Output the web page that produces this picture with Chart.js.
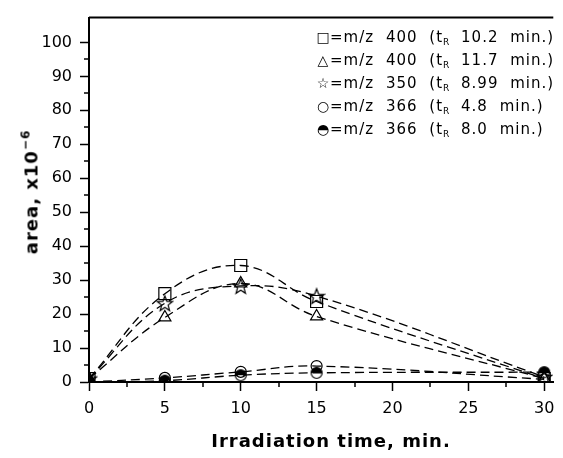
<!DOCTYPE html>
<html lang="en">
<head>
    <meta charset="UTF-8">
    <title>area vs irradiation time</title>
    <script src="https://cdn.jsdelivr.net/npm/chart.js"></script>
    <style>
        body { margin: 0; background: #ffffff; }
        #wrap { position: relative; width: 563px; height: 458px; }
        canvas { position: absolute; left: 0; top: 0; }
        .legend { position: absolute; left: 316px; top: 26px; font-family: 'DejaVu Sans', sans-serif; font-size: 15px; color: #000; line-height: 23px; word-spacing: 6px; letter-spacing: 1px; }
        .legend div { height: 23px; white-space: nowrap; }
        .legend sub { font-size: 9px; vertical-align: -3px; line-height: 0; letter-spacing: 0; }
        .legend .sym { display: inline-block; width: 14px; text-align: center; font-size: 14px; word-spacing: 0; letter-spacing: 0; }
        #ytitle { position: absolute; left: 30px; top: 192px; transform: translate(-50%, -50%) rotate(-90deg); font-family: 'DejaVu Sans', sans-serif; font-weight: bold; font-size: 18px; white-space: nowrap; letter-spacing: 1px; }
        #ytitle sup { font-size: 12px; vertical-align: 8px; }
        #xtitle { position: absolute; left: 331px; top: 440px; transform: translate(-50%, -50%); font-family: 'DejaVu Sans', sans-serif; font-weight: bold; font-size: 18px; white-space: nowrap; letter-spacing: 1px; }
    </style>
</head>
<body>
    <div id="wrap">
        <canvas id="chart" width="563" height="458"></canvas>
        <div id="ytitle">area, x10<sup>−6</sup></div>
        <div id="xtitle">Irradiation time, min.</div>
        <div class="legend" id="legend"></div>
    </div>

    <script>
        // irradiation time (min)
        const times = [0, 5, 10, 15, 30];

        // peak areas, x10^-6
        const mz400a = [1, 26, 34.3, 23.7, 1];     // square
        const mz400b = [1, 19, 29, 19.3, 1];       // triangle
        const mz350 = [1, 23.2, 28.3, 25.3, 1.5];  // star
        const mz366a = [0, 1.2, 3, 4.7, 0.8];      // circle
        const mz366b = [0, 0.4, 2, 2.7, 2.9];      // half filled circle

        const legendLabels = [
            { sym: "□", mz: "400", tr: "10.2", close: ")" },
            { sym: "△", mz: "400", tr: "11.7", close: ")" },
            { sym: "☆", mz: "350", tr: "8.99", close: ")" },
            { sym: "○", mz: "366", tr: "4.8", close: ")" },
            { sym: "◓", mz: "366", tr: "8.0", close: ")" }
        ];

        const xTicks = [0, 5, 10, 15, 20, 25, 30];
        const yTicks = [0, 10, 20, 30, 40, 50, 60, 70, 80, 90, 100];

        // marker images
        function makeStar() {
            const c = document.createElement("canvas");
            c.width = 18; c.height = 18;
            const ctx = c.getContext("2d");
            ctx.strokeStyle = "#000"; ctx.lineWidth = 1.2;
            ctx.beginPath();
            for (let i = 0; i < 10; i++) {
                const r = i % 2 === 0 ? 8 : 3.4;
                const a = -Math.PI / 2 + i * Math.PI / 5;
                const px = 9 + r * Math.cos(a), py = 9.8 + r * Math.sin(a);
                i === 0 ? ctx.moveTo(px, py) : ctx.lineTo(px, py);
            }
            ctx.closePath();
            ctx.stroke();
            return c;
        }

        function makeHalf() {
            const c = document.createElement("canvas");
            c.width = 14; c.height = 14;
            const ctx = c.getContext("2d");
            ctx.fillStyle = "#000"; ctx.strokeStyle = "#000"; ctx.lineWidth = 1.2;
            ctx.beginPath(); ctx.arc(7, 7, 5.5, Math.PI, 0); ctx.closePath(); ctx.fill();
            ctx.beginPath(); ctx.arc(7, 7, 5.5, 0, Math.PI * 2); ctx.stroke();
            return c;
        }

        const legendEl = document.getElementById("legend");
        legendEl.innerHTML = legendLabels.map(l =>
            `<div><span class="sym">${l.sym}</span>=m/z ${l.mz} (t<sub>R</sub> ${l.tr} min.${l.close}</div>`
        ).join("");

        function series(data, style, radius) {
            return {
                data: times.map((t, i) => ({ x: t, y: data[i] })),
                borderColor: "#000",
                borderWidth: 1.3,
                borderDash: [9, 5],
                pointStyle: style,
                pointRadius: radius,
                pointBorderColor: "#000",
                pointBorderWidth: 1.2,
                pointBackgroundColor: "rgba(255,255,255,0)",
                tension: 0.4,
                fill: false
            };
        }

        // frame top line + minor ticks
        const framePlugin = {
            id: "frame",
            afterDraw(chart) {
                const ctx = chart.ctx;
                const a = chart.chartArea;
                const xs = chart.scales.x, ys = chart.scales.y;
                ctx.save();
                ctx.strokeStyle = "#000";
                ctx.lineWidth = 2;
                ctx.beginPath();
                ctx.moveTo(a.left, a.top);
                ctx.lineTo(a.right, a.top);
                ctx.stroke();
                ctx.lineWidth = 1.5;
                ctx.beginPath();
                for (let v = 2.5; v < 30; v += 5) {
                    const px = Math.round(xs.getPixelForValue(v));
                    ctx.moveTo(px, a.bottom); ctx.lineTo(px, a.bottom + 5);
                }
                for (let v = 5; v < 105; v += 10) {
                    const py = Math.round(ys.getPixelForValue(v));
                    ctx.moveTo(a.left, py); ctx.lineTo(a.left - 5, py);
                }
                ctx.stroke();
                ctx.restore();
            }
        };

        new Chart(document.getElementById("chart"), {
            type: "line",
            data: {
                datasets: [
                    series(mz400a, "rect", 8.5),
                    series(mz400b, "triangle", 7),
                    series(mz350, makeStar(), 8),
                    series(mz366a, "circle", 5.5),
                    series(mz366b, makeHalf(), 6)
                ]
            },
            options: {
                responsive: false,
                animation: false,
                layout: { padding: { top: 14, right: 8, left: 0, bottom: 0 } },
                plugins: { legend: { display: false }, tooltip: { enabled: false } },
                scales: {
                    x: {
                        type: "linear",
                        min: 0,
                        max: 30.6,
                        afterBuildTicks: s => { s.ticks = xTicks.map(v => ({ value: v })); },
                        afterFit: s => { s.height = 76; },
                        grid: { drawOnChartArea: false, tickLength: 9, tickWidth: 1.5, color: "#000" },
                        border: { color: "#000", width: 2 },
                        ticks: { color: "#000", padding: 8, font: { family: "DejaVu Sans", size: 16 }, maxRotation: 0 }
                    },
                    y: {
                        min: 0,
                        max: 107.3,
                        afterBuildTicks: s => { s.ticks = yTicks.map(v => ({ value: v })); },
                        afterFit: s => { s.width = 89; },
                        grid: { drawOnChartArea: false, tickLength: 9, tickWidth: 1.5, color: "#000" },
                        border: { color: "#000", width: 2 },
                        ticks: { color: "#000", padding: 8, font: { family: "DejaVu Sans", size: 16 } }
                    }
                }
            },
            plugins: [framePlugin]
        });
    </script>
</body>
</html>
